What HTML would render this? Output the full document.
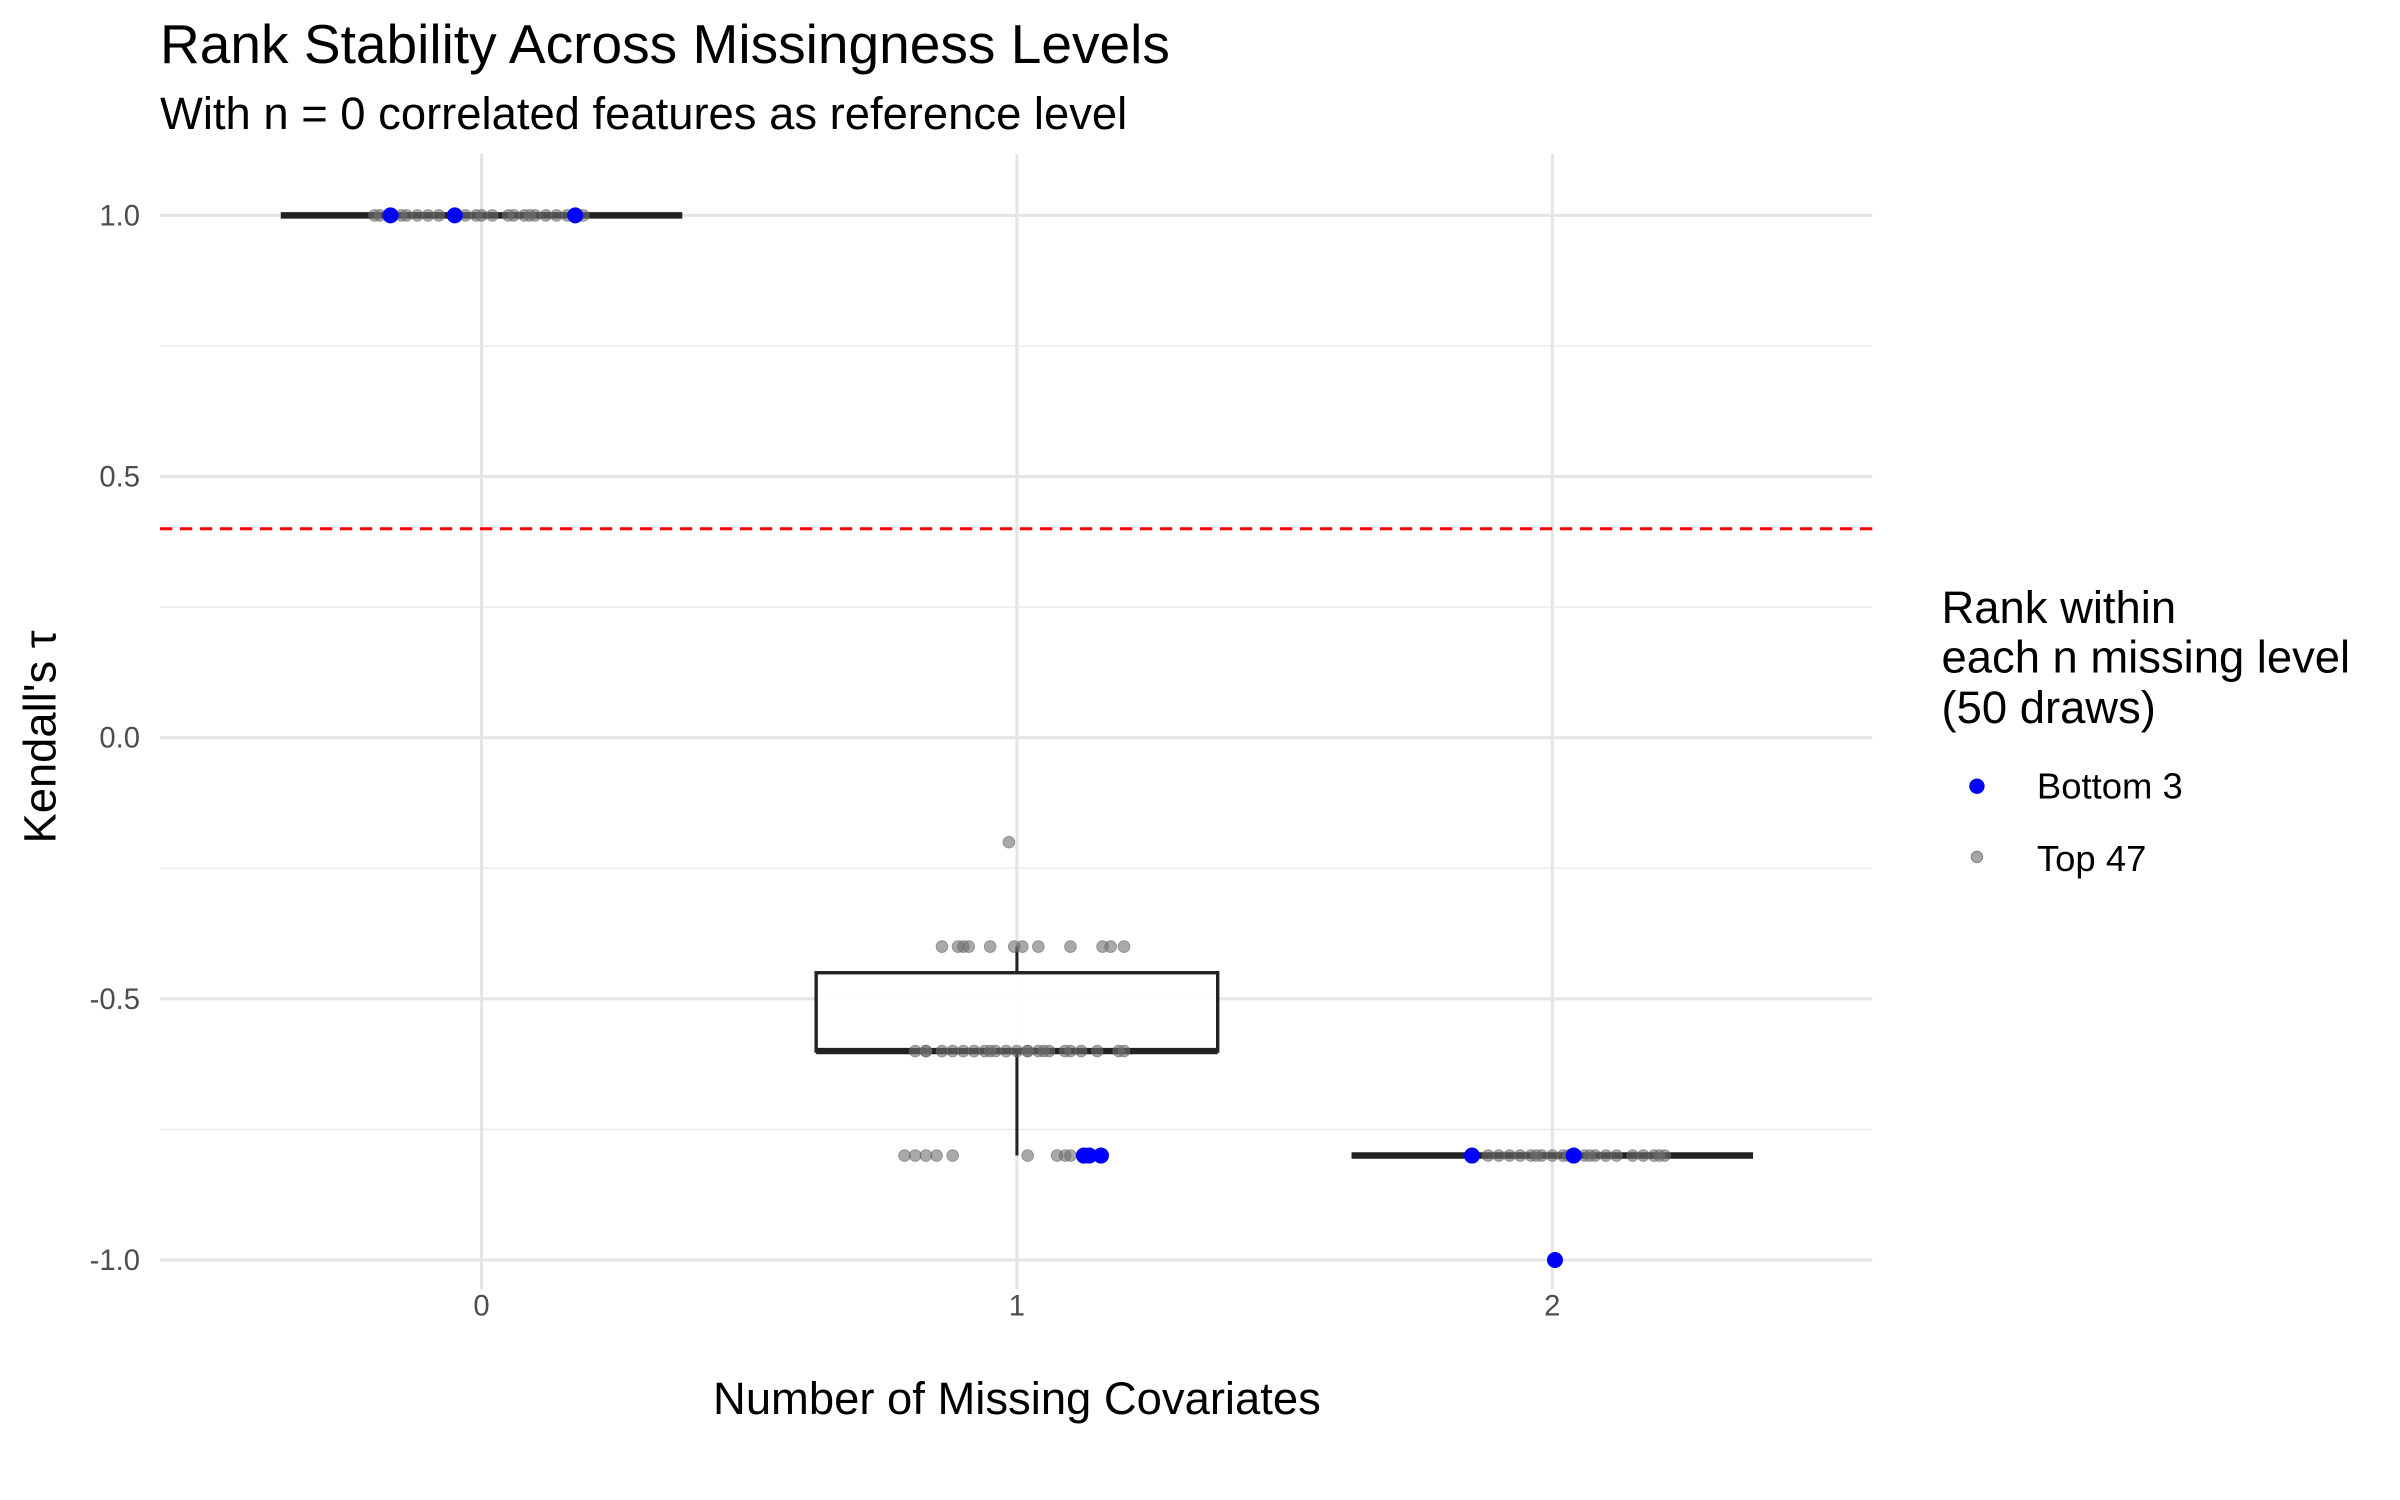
<!DOCTYPE html>
<html><head><meta charset="utf-8"><style>
html,body{margin:0;padding:0;background:#fff}
svg{display:block;font-family:"Liberation Sans",Arial,sans-serif}
</style></head><body>
<svg id="chart" width="2400" height="1500" viewBox="0 0 1560 975" xmlns="http://www.w3.org/2000/svg">
<text x="104" y="41" font-size="35.8" fill="#000">Rank Stability Across Missingness Levels</text>
<text x="104" y="84" font-size="29.5" fill="#000">With n = 0 correlated features as reference level</text>
<g id="grid"></g>
<g id="marks"></g>
<g id="axes"></g>
<text x="661" y="919" font-size="29.5" text-anchor="middle" fill="#000">Number of Missing Covariates</text>
<text transform="translate(36,479) rotate(-90)" font-size="29.5" text-anchor="middle" fill="#000">Kendall's τ</text>
<g>
<text font-size="29.5" fill="#000"><tspan x="1262" y="405">Rank within</tspan><tspan x="1262" y="437">each n missing level</tspan><tspan x="1262" y="470">(50 draws)</tspan></text>
<circle cx="1285" cy="511" r="5" fill="#0000ff"/>
<text x="1324" y="519" font-size="23.7" fill="#000">Bottom 3</text>
<circle cx="1285" cy="557" r="3.7" fill="#808080" fill-opacity="0.7" stroke="#777" stroke-width="0.6"/>
<text x="1324" y="566" font-size="23.7" fill="#000">Top 47</text>
</g>
</svg>
<script>
const categories = [0, 1, 2];
const yTicks = [1.0, 0.5, 0.0, -0.5, -1.0];
const yTickLabels = ["1.0", "0.5", "0.0", "-0.5", "-1.0"];
const yMinor = [0.75, 0.25, -0.25, -0.75];
const refLine = 0.4;
// box stats per group: [lowerWhisker, q1, median, q3, upperWhisker]
const boxStats = [[1,1,1,1,1],[-0.8,-0.6,-0.6,-0.45,-0.4],[-0.8,-0.8,-0.8,-0.8,-0.8]];
const grayGroup = [0,0,0,0,0,0,0,0,0,0,0,0,0,0,0,0,0,0,0,0,
 1,1,1,1,1,1,1,1,1,1,1,1,1,1,1,1,1,1,1,1,1,1,1,1,1,1,1,1,1,1,1,1,1,1,1,1,1,1,1,1,1,1,1,1,1,
 2,2,2,2,2,2,2,2,2,2,2,2,2,2,2,2,2,2,2,2,2,2,2,2,2,2,2,2,2];
const grayOffset = [-0.2,-0.19,-0.15,-0.14,-0.12,-0.1,-0.08,-0.03,-0.01,0.0,0.02,0.05,0.06,0.08,0.09,0.1,0.12,0.14,0.16,0.19,
 -0.015,-0.14,-0.11,-0.1,-0.09,-0.05,-0.005,0.01,0.04,0.1,0.16,0.175,0.2,
 -0.19,-0.17,-0.14,-0.12,-0.1,-0.08,-0.05,-0.04,-0.02,0.0,0.02,0.05,0.06,0.09,0.1,0.12,0.15,0.19,0.2,
 -0.15,-0.12,0.02,0.075,0.09,0.1,
 -0.17,-0.06,0.02,0.04,
 -0.21,-0.19,-0.17,-0.12,-0.1,-0.08,-0.06,-0.04,-0.02,0.0,0.02,0.04,0.06,0.08,0.1,0.12,0.15,0.17,0.19,0.2,0.21,0.03,-0.03,0.07];
const grayValue = [1,1,1,1,1,1,1,1,1,1,1,1,1,1,1,1,1,1,1,1,
 -0.2,-0.4,-0.4,-0.4,-0.4,-0.4,-0.4,-0.4,-0.4,-0.4,-0.4,-0.4,-0.4,
 -0.6,-0.6,-0.6,-0.6,-0.6,-0.6,-0.6,-0.6,-0.6,-0.6,-0.6,-0.6,-0.6,-0.6,-0.6,-0.6,-0.6,-0.6,-0.6,
 -0.8,-0.8,-0.8,-0.8,-0.8,-0.8,
 -0.6,-0.6,-0.6,-0.6,
 -0.8,-0.8,-0.8,-0.8,-0.8,-0.8,-0.8,-0.8,-0.8,-0.8,-0.8,-0.8,-0.8,-0.8,-0.8,-0.8,-0.8,-0.8,-0.8,-0.8,-0.8,-0.8,-0.8,-0.8];
const blueGroup = [0,0,0,1,1,1,2,2,2];
const blueOffset = [-0.17,-0.05,0.175,0.135,0.125,0.157,-0.15,0.04,0.005];
const blueValue = [1,1,1,-0.8,-0.8,-0.8,-0.8,-0.8,-1.0];

const NS="http://www.w3.org/2000/svg";
const L=104,R=1217,T=100,B=838;
function xs(v){return 313+v*348;}
function ys(v){return 479.5-v*339.5;}
function mk(tag,attrs,parent){const e=document.createElementNS(NS,tag);for(const k in attrs)e.setAttribute(k,attrs[k]);parent.appendChild(e);return e;}
const grid=document.getElementById('grid'),marks=document.getElementById('marks'),axes=document.getElementById('axes');
yMinor.forEach(v=>{const e=mk('line',{x1:L,x2:R,y1:ys(v),y2:ys(v),stroke:'#ebebeb','stroke-width':1},grid);

});
yTicks.forEach((v,i)=>{const e=mk('line',{x1:L,x2:R,y1:ys(v),y2:ys(v),stroke:'#e5e5e5','stroke-width':2},grid);


const t=mk('text',{x:91,y:ys(v)+6.5,'font-size':19,'text-anchor':'end',fill:'#4d4d4d'},axes);t.textContent=yTickLabels[i];

});
categories.forEach(c=>{const e=mk('line',{x1:xs(c),x2:xs(c),y1:T,y2:B,stroke:'#e5e5e5','stroke-width':2},grid);


const t=mk('text',{x:xs(c),y:855,'font-size':19,'text-anchor':'middle',fill:'#4d4d4d'},axes);t.textContent=String(c);

});
boxStats.forEach((s,g)=>{const bx=mk('g',{},marks);


const x0=xs(g-0.375),x1=xs(g+0.375),xc=xs(g);
mk('line',{x1:xc,x2:xc,y1:ys(s[0]),y2:ys(s[1]),stroke:'#222','stroke-width':2},bx);
mk('line',{x1:xc,x2:xc,y1:ys(s[3]),y2:ys(s[4]),stroke:'#222','stroke-width':2},bx);
mk('rect',{x:x0,y:ys(s[3]),width:x1-x0,height:Math.max(0,ys(s[1])-ys(s[3])),fill:'#fff','fill-opacity':0.9,stroke:'#222','stroke-width':2.2},bx);
mk('line',{x1:x0,x2:x1,y1:ys(s[2]),y2:ys(s[2]),stroke:'#222','stroke-width':4.2},bx);});
const rl=mk('line',{x1:L,x2:R,y1:ys(refLine),y2:ys(refLine),stroke:'#ff0000','stroke-width':2,'stroke-dasharray':'8,5'},marks);


grayValue.forEach((v,i)=>{const p=mk('circle',{cx:xs(grayGroup[i]+grayOffset[i]),cy:ys(v),r:3.8,fill:'#707070','fill-opacity':0.6,stroke:'#666','stroke-opacity':0.6,'stroke-width':0.6},marks);

});
blueValue.forEach((v,i)=>{const p=mk('circle',{cx:xs(blueGroup[i]+blueOffset[i]),cy:ys(v),r:5.2,fill:'#0000ff'},marks);

});
</script>
</body></html>
